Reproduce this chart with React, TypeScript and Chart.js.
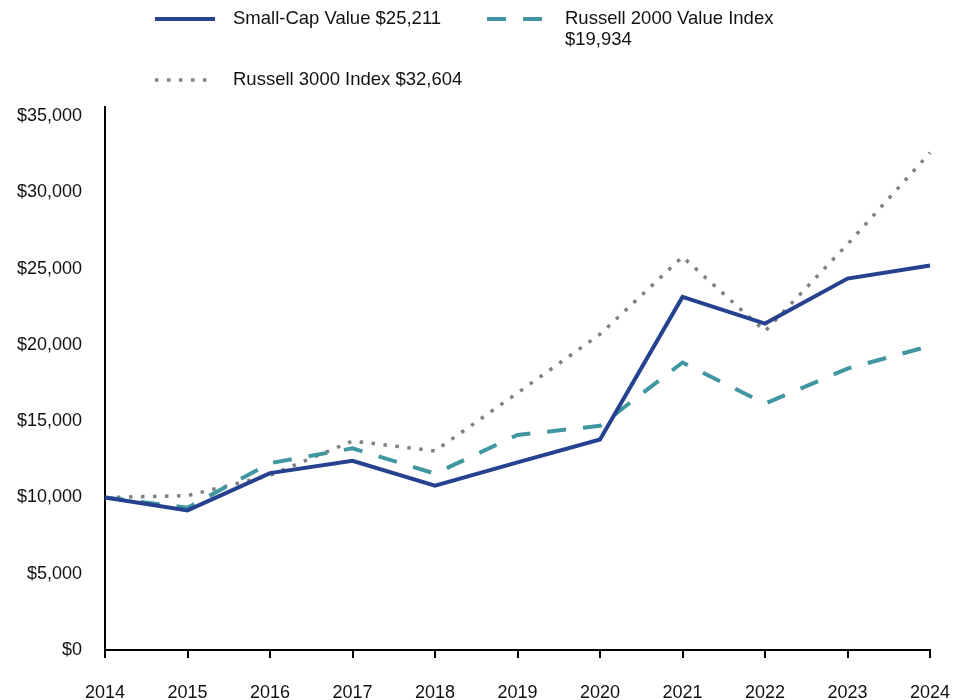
import React, { useEffect, useRef } from "react";
import { Chart, registerables } from "chart.js";

Chart.register(...registerables);

const years = ["2014", "2015", "2016", "2017", "2018", "2019", "2020", "2021", "2022", "2023", "2024"];
const seriesNames = ["Small-Cap Value", "Russell 2000 Value Index", "Russell 3000 Index"];
const smallCapValue = [10000, 9150, 11600, 12400, 10770, 12300, 13800, 23150, 21400, 24350, 25211];
const russell2000Value = [10000, 9330, 12250, 13220, 11560, 14100, 14700, 18850, 16150, 18450, 19934];
const russell3000 = [10000, 10120, 11450, 13700, 13050, 16850, 20700, 25780, 20900, 26600, 32604];
const yTickValues = [0, 5000, 10000, 15000, 20000, 25000, 30000, 35000];
const yAxisTop = 35600;

const FONT = '"Liberation Sans", Arial, Helvetica, sans-serif';
const NAVY = "#26418f";
const TEAL = "#4197a0";
const GRAY = "#808080";
const TEXT = "#111";

const fmt = (v: number) => "$" + v.toLocaleString("en-US");

function wrapText(ctx: CanvasRenderingContext2D, text: string, maxWidth: number): string[] {
  const words = text.split(" ");
  const lines: string[] = [];
  let cur = "";
  for (const w of words) {
    const test = cur ? cur + " " + w : w;
    if (ctx.measureText(test).width > maxWidth && cur) {
      lines.push(cur);
      cur = w;
    } else {
      cur = test;
    }
  }
  if (cur) lines.push(cur);
  return lines;
}

const legendPlugin = {
  id: "customLegend",
  afterDraw(chart: any) {
    const ctx: CanvasRenderingContext2D = chart.ctx;
    const slots = [
      { sx: 155, ex: 215, tx: 233, y: 19 },
      { sx: 487, ex: 542, tx: 565, y: 19 },
      { sx: 155, ex: 212, tx: 233, y: 80 },
    ];
    ctx.save();
    ctx.font = "18.5px " + FONT;
    ctx.textBaseline = "middle";
    ctx.textAlign = "left";
    chart.data.datasets.forEach((ds: any, i: number) => {
      const s = slots[i];
      ctx.save();
      ctx.strokeStyle = ds.borderColor;
      ctx.lineWidth = ds.borderWidth;
      ctx.lineCap = "butt";
      ctx.setLineDash(ds.borderDash || []);
      ctx.beginPath();
      ctx.moveTo(s.sx, s.y);
      ctx.lineTo(s.ex, s.y);
      ctx.stroke();
      ctx.restore();
      ctx.fillStyle = TEXT;
      const lines = wrapText(ctx, ds.label, 250);
      lines.forEach((ln, k) => ctx.fillText(ln, s.tx, s.y + k * 21));
    });
    ctx.restore();
  },
};

export default function App() {
  const ref = useRef<HTMLCanvasElement | null>(null);
  useEffect(() => {
    if (!ref.current) return;
    const last = (a: number[]) => a[a.length - 1];
    const chart = new Chart(ref.current, {
      type: "line",
      data: {
        labels: years,
        datasets: [
          {
            label: `${seriesNames[0]} ${fmt(last(smallCapValue))}`,
            data: smallCapValue,
            borderColor: NAVY,
            backgroundColor: NAVY,
            borderWidth: 4,
            pointRadius: 0,
            tension: 0,
            borderJoinStyle: "miter",
          },
          {
            label: `${seriesNames[1]} ${fmt(last(russell2000Value))}`,
            data: russell2000Value,
            borderColor: TEAL,
            backgroundColor: TEAL,
            borderWidth: 4,
            borderDash: [19, 17],
            pointRadius: 0,
            tension: 0,
          },
          {
            label: `${seriesNames[2]} ${fmt(last(russell3000))}`,
            data: russell3000,
            borderColor: GRAY,
            backgroundColor: GRAY,
            borderWidth: 3.5,
            borderDash: [3.5, 8.5],
            pointRadius: 0,
            tension: 0,
          },
        ],
      },
      options: {
        animation: false,
        responsive: true,
        maintainAspectRatio: false,
        devicePixelRatio: 1,
        layout: { padding: { top: 107, left: 0, right: 35, bottom: 0 } },
        plugins: {
          legend: { display: false },
          tooltip: { enabled: false },
        },
        scales: {
          x: {
            type: "category",
            offset: false,
            grid: {
              display: true,
              drawOnChartArea: false,
              drawTicks: true,
              tickLength: 8,
              color: "#000",
              lineWidth: 2,
            },
            border: { display: true, color: "#000", width: 2 },
            ticks: {
              padding: 24,
              color: TEXT,
              font: { size: 18, family: FONT },
              maxRotation: 0,
              autoSkip: false,
            },
            afterFit: (scale: any) => {
              scale.height = 50;
              scale.paddingLeft = 0;
              scale.paddingRight = 0;
            },
          },
          y: {
            min: 0,
            max: yAxisTop,
            grid: { display: false, drawTicks: false },
            border: { display: true, color: "#000", width: 2 },
            ticks: {
              padding: 23,
              color: TEXT,
              font: { size: 18, family: FONT },
              callback: (v: any) => fmt(Number(v)),
            },
            afterBuildTicks: (scale: any) => {
              scale.ticks = yTickValues.map((v) => ({ value: v }));
            },
            afterFit: (scale: any) => {
              scale.width = 105;
              scale.paddingTop = 0;
              scale.paddingBottom = 0;
            },
          },
        },
      },
      plugins: [legendPlugin],
    } as any);
    return () => chart.destroy();
  }, []);
  return (
    <div style={{ position: "absolute", left: 0, top: 0, width: 965, height: 700, background: "#fff" }}>
      <canvas ref={ref} />
    </div>
  );
}
